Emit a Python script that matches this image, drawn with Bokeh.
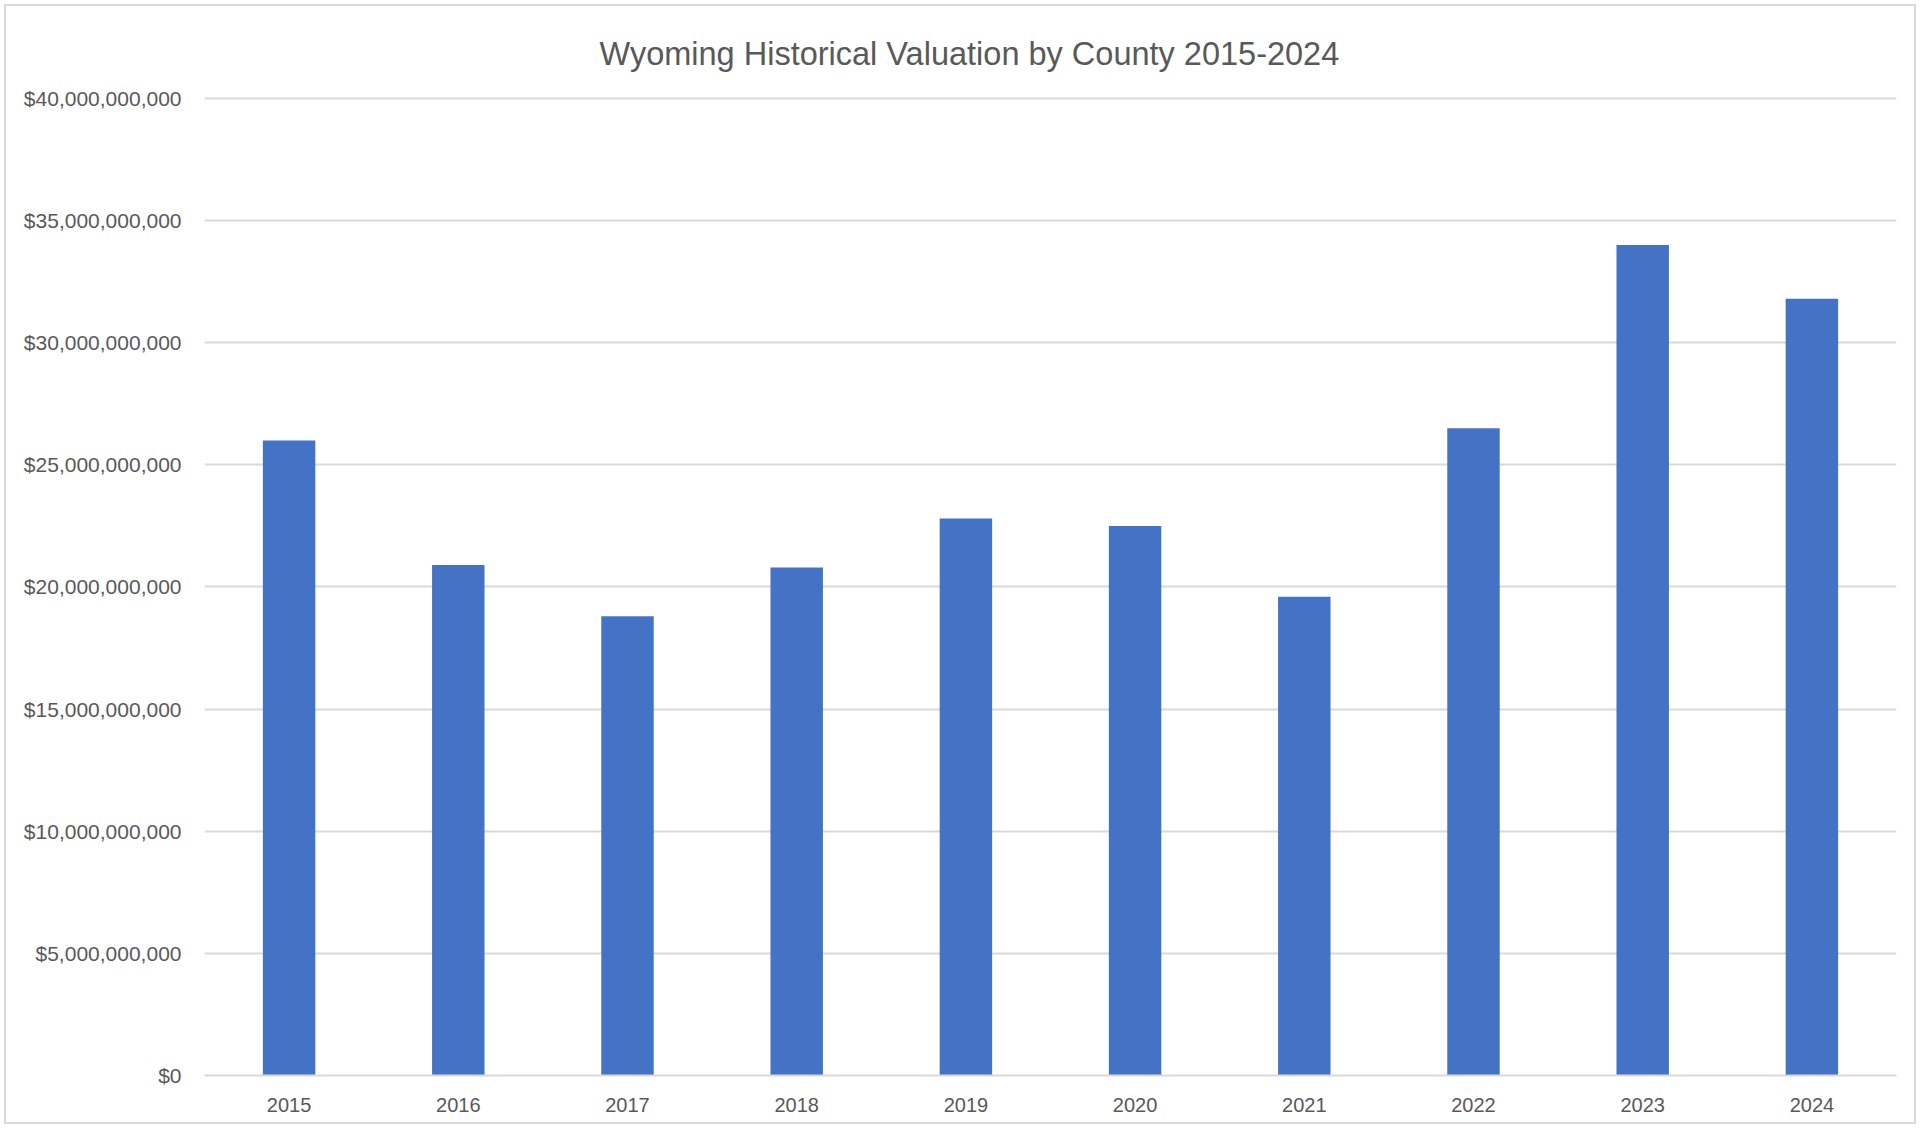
from bokeh.plotting import figure
from bokeh.models import Range1d, NumeralTickFormatter, FixedTicker
from bokeh.embed import file_html
from bokeh.resources import INLINE

# ---- data ----
years = ["2015", "2016", "2017", "2018", "2019", "2020", "2021", "2022", "2023", "2024"]
valuation = [26.0e9, 20.9e9, 18.8e9, 20.8e9, 22.8e9, 22.5e9, 19.6e9, 26.5e9, 34.0e9, 31.8e9]
y_ticks = [0, 5e9, 10e9, 15e9, 20e9, 25e9, 30e9, 35e9, 40e9]
title_text = "Wyoming Historical Valuation by County 2015-2024"

FONT = "Liberation Sans"
GRAY_TEXT = "#595959"
GRID = "#D9D9D9"

p = figure(
    x_range=years,
    y_range=Range1d(0, 40.08e9),
    width=1912,
    height=1120,
    output_backend="svg",
    toolbar_location=None,
    title=title_text,
    min_border_left=198,
    min_border_right=22,
    min_border_top=90,
    min_border_bottom=51,
)

p.vbar(x=years, top=valuation, width=0.31, color="#4472C4", line_color=None)

# title
p.title.align = "left"
p.title.offset = 395
p.title.standoff = 50
p.title.text_font = FONT
p.title.text_font_size = "32.5px"
p.title.text_font_style = "normal"
p.title.text_color = GRAY_TEXT

# y axis
p.yaxis.ticker = FixedTicker(ticks=y_ticks)
p.yaxis.formatter = NumeralTickFormatter(format="$0,0")
p.yaxis.axis_line_color = None
p.yaxis.major_tick_line_color = None
p.yaxis.minor_tick_line_color = None
p.yaxis.major_tick_out = 0
p.yaxis.major_tick_in = 0
p.yaxis.major_label_standoff = 23
p.yaxis.major_label_text_font = FONT
p.yaxis.major_label_text_font_size = "21px"
p.yaxis.major_label_text_color = GRAY_TEXT

# x axis
p.xaxis.axis_line_color = GRID
p.xaxis.axis_line_width = 2
p.xaxis.major_tick_line_color = None
p.xaxis.major_tick_out = 0
p.xaxis.major_tick_in = 0
p.xaxis.major_label_standoff = 22
p.xaxis.major_label_text_font = FONT
p.xaxis.major_label_text_font_size = "20px"
p.xaxis.major_label_text_color = GRAY_TEXT

# grid
p.xgrid.grid_line_color = None
p.ygrid.grid_line_color = GRID
p.ygrid.grid_line_width = 2

p.outline_line_color = None
p.background_fill_color = "white"
p.border_fill_color = "white"
p.styles = {"border": "2px solid #d9d9d9", "margin": "4px"}

open("out.html", "w").write(file_html(p, INLINE))
